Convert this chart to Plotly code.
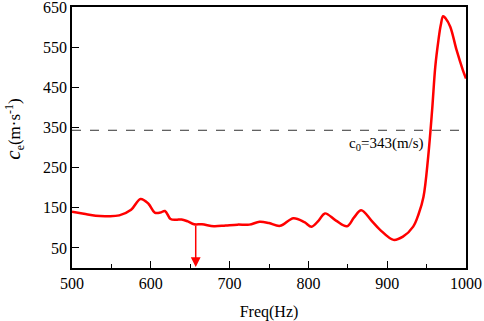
import plotly.graph_objects as go

freq = [500, 515, 530, 545, 560, 575, 587, 597, 605, 612, 618, 625, 632, 639, 647, 655, 665, 680, 695,
        710, 725, 738, 750, 764, 781, 795, 804, 813, 821, 835, 849, 858, 867, 880, 891, 908, 920, 933,
        940, 946, 952, 957, 961, 965, 968, 971, 974, 980, 988, 996, 1000]
ce = [140, 135, 130, 129, 131, 145, 172, 160, 138, 138, 142, 122, 120, 121, 116, 109, 109, 104, 106,
      108, 108, 115, 112, 105, 124, 114, 103, 118, 136, 118, 104, 126, 144, 118, 95, 70, 78, 103,
      135, 177, 277, 393, 501, 567, 605, 627, 622, 601, 543, 493, 472]
c0 = 343
arrow_freq = 657
arrow_top = 109
x_ticks = [500, 600, 700, 800, 900, 1000]
y_ticks = [50, 150, 250, 350, 450, 550, 650]

FONT = "Liberation Serif"

fig = go.Figure()
fig.add_trace(go.Scatter(x=freq, y=ce, mode="lines",
                         line=dict(color="#ff0000", width=2.5, shape="spline", smoothing=1.0),
                         showlegend=False, hoverinfo="skip"))

fig.add_shape(type="line", xref="x", yref="y", x0=500, x1=1000, y0=c0, y1=c0,
              line=dict(color="#333333", width=1, dash="dash"))

fig.add_annotation(x=1000, y=c0, xref="x", yref="y", xanchor="right", yanchor="top",
                   xshift=-40, yshift=-3,
                   text="c<sub>0</sub>=343(m/s)", showarrow=False,
                   font=dict(family=FONT, size=15, color="black"))

fig.add_annotation(x=arrow_freq, y=0, ax=arrow_freq, ay=arrow_top, xref="x", yref="y",
                   axref="x", ayref="y", text="", showarrow=True,
                   arrowhead=2, arrowsize=1.3, arrowwidth=1.5, arrowcolor="#ff0000",
                   standoff=1)

# y-axis title as annotation for precise placement
fig.add_annotation(x=0, y=0.53, xref="paper", yref="paper", xshift=-58,
                   xanchor="center", yanchor="middle", textangle=-90, showarrow=False,
                   text="<i><span style='font-size:21px'>c</span></i><sub>e</sub>(m·s<sup>-1</sup>)",
                   font=dict(family=FONT, size=17, color="black"))

fig.update_layout(
    width=484, height=321,
    margin=dict(l=72, r=18, t=7, b=53, pad=0),
    paper_bgcolor="white", plot_bgcolor="white",
    font=dict(family=FONT, size=16, color="black"),
    xaxis=dict(range=[500, 1000], tickvals=x_ticks, ticks="inside", ticklen=7, tickwidth=1.2,
               tickcolor="black", showline=True, linecolor="black", linewidth=1.5, mirror=True,
               showgrid=False, zeroline=False, automargin=False, ticklabeloverflow="allow",
               minor=dict(ticks="inside", ticklen=4, tickwidth=1.2, tickcolor="black", dtick=50,
                          showgrid=False),
               title=dict(text="Freq(Hz)", font=dict(family=FONT, size=16), standoff=16),
               tickfont=dict(family=FONT, size=16)),
    yaxis=dict(range=[0, 650], tickvals=y_ticks, ticks="inside", ticklen=7, tickwidth=1.2,
               tickcolor="black", showline=True, linecolor="black", linewidth=1.5, mirror=True,
               showgrid=False, zeroline=False, automargin=False, ticklabeloverflow="allow",
               tickfont=dict(family=FONT, size=16)),
)

fig.write_html("out.html", config={"displayModeBar": False},
               post_script="document.body.style.margin='0';document.body.style.padding='0';")
